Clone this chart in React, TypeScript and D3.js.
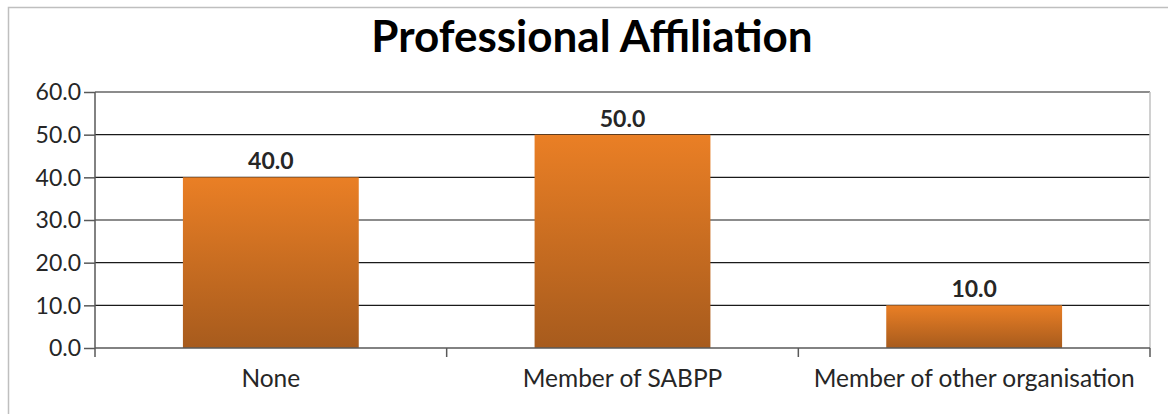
import { useEffect, useRef } from "react";
import { axisLeft, scaleBand, scaleLinear, select } from "d3";

const categories = ["None", "Member of SABPP", "Member of other organisation"];
const values = [40.0, 50.0, 10.0];
const yTicks = [0, 10, 20, 30, 40, 50, 60];
const title = "Professional Affiliation";

const W = 1168;
const H = 414;
const margin = { top: 92, right: 18, bottom: 66, left: 95 };
const FONT = "Lato, 'Open Sans', sans-serif";

function AxisLeft({ scale }) {
  const ref = useRef(null);

  useEffect(() => {
    if (ref.current) {
      const g = select(ref.current);
      g.call(
        axisLeft(scale)
          .tickValues(yTicks)
          .tickSize(11)
          .tickPadding(3)
          .tickFormat((d) => Number(d).toFixed(1))
      );
      g.select(".domain").remove();
      g.selectAll(".tick line").attr("stroke", "#595959").attr("stroke-width", 1.5);
      g.selectAll(".tick text")
        .attr("font-family", FONT)
        .attr("font-size", 23)
        .attr("fill", "#262626")
        .attr("dy", "0.34em");
    }
  }, [scale]);

  return <g ref={ref} />;
}

export default function App() {
  const width = W - margin.left - margin.right;
  const height = H - margin.top - margin.bottom;

  const scaleX = scaleBand()
    .domain(categories)
    .range([0, width])
    .paddingInner(0.5)
    .paddingOuter(0.25);
  const scaleY = scaleLinear().domain([0, 60]).range([height, 0]);
  const step = scaleX.step();

  return (
    <svg
      width={W}
      height={H}
      style={{ position: "absolute", left: 0, top: 0, background: "#fff" }}
    >
      <defs>
        <linearGradient id="barFill" x1="0" y1="0" x2="0" y2="1">
          <stop offset="0%" stopColor="#ea7f25" />
          <stop offset="100%" stopColor="#a75b1d" />
        </linearGradient>
      </defs>
      <rect x={8.5} y={7.5} width={W + 10} height={H + 10} fill="none" stroke="#bfbfbf" strokeWidth={1.5} />
      <text
        x={592}
        y={52}
        textAnchor="middle"
        fontFamily={FONT}
        fontWeight="bold"
        fontSize={44}
        fill="#000"
      >
        {title}
      </text>
      <g transform={`translate(${margin.left}, ${margin.top})`}>
        {yTicks.slice(1).map((t) => (
          <line key={t} x1={0} x2={width} y1={scaleY(t)} y2={scaleY(t)} stroke="#1a1a1a" strokeWidth={1.2} />
        ))}
        <line x1={width} x2={width} y1={0} y2={height} stroke="#c0c0c0" strokeWidth={1.5} />
        {categories.map((c, i) => (
          <g key={c}>
            <rect
              x={scaleX(c)}
              y={scaleY(values[i])}
              width={scaleX.bandwidth()}
              height={height - scaleY(values[i])}
              fill="url(#barFill)"
            />
            <text
              x={scaleX(c) + scaleX.bandwidth() / 2}
              y={scaleY(values[i]) - 8}
              textAnchor="middle"
              fontFamily={FONT}
              fontWeight="bold"
              fontSize={23}
              fill="#262626"
            >
              {values[i].toFixed(1)}
            </text>
            <text
              x={scaleX(c) + scaleX.bandwidth() / 2}
              y={height + 39}
              textAnchor="middle"
              fontFamily={FONT}
              fontSize={24.5}
              fill="#262626"
            >
              {c}
            </text>
          </g>
        ))}
        <line x1={0} x2={width} y1={height} y2={height} stroke="#595959" strokeWidth={1.5} />
        {[0, 1, 2, 3].map((i) => (
          <line key={i} x1={i * step} x2={i * step} y1={height} y2={height + 9} stroke="#595959" strokeWidth={1.5} />
        ))}
        <line x1={0} x2={0} y1={0} y2={height} stroke="#595959" strokeWidth={1.5} />
        <AxisLeft scale={scaleY} />
      </g>
    </svg>
  );
}
